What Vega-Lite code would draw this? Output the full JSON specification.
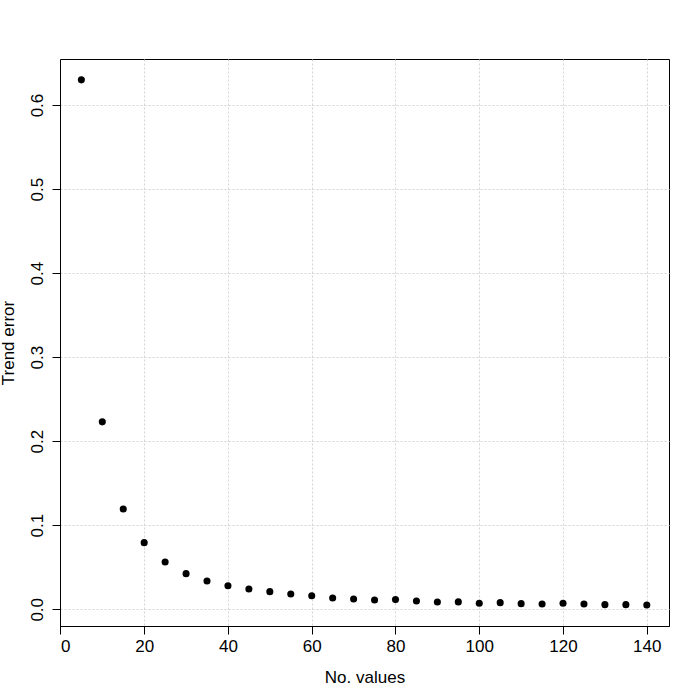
{
  "$schema": "https://vega.github.io/schema/vega-lite/v6.json",
  "autosize": {"type": "none"},
  "padding": {"left": 60, "top": 59, "right": 31, "bottom": 74},
  "width": 609,
  "height": 567,
  "background": "white",
  "config": {
    "view": {"stroke": "black", "strokeWidth": 1},
    "font": "Liberation Sans",
    "axis": {
      "labelFont": "Liberation Sans",
      "titleFont": "Liberation Sans",
      "labelFontSize": 17,
      "titleFontSize": 17,
      "titleFontWeight": "normal",
      "labelColor": "black",
      "titleColor": "black",
      "tickColor": "black",
      "tickSize": 8,
      "domain": true,
      "domainColor": "black",
      "domainWidth": 1,
      "grid": true,
      "gridColor": "#d3d3d3",
      "gridDash": [2, 2],
      "gridWidth": 1
    }
  },
  "data": {
    "values": [
      {"n": 5, "err": 0.630},
      {"n": 10, "err": 0.223},
      {"n": 15, "err": 0.1194},
      {"n": 20, "err": 0.0793},
      {"n": 25, "err": 0.0563},
      {"n": 30, "err": 0.0424},
      {"n": 35, "err": 0.0337},
      {"n": 40, "err": 0.0281},
      {"n": 45, "err": 0.0242},
      {"n": 50, "err": 0.021},
      {"n": 55, "err": 0.0182},
      {"n": 60, "err": 0.0162},
      {"n": 65, "err": 0.0135},
      {"n": 70, "err": 0.0123},
      {"n": 75, "err": 0.011},
      {"n": 80, "err": 0.0115},
      {"n": 85, "err": 0.0099},
      {"n": 90, "err": 0.0087},
      {"n": 95, "err": 0.0088},
      {"n": 100, "err": 0.0071},
      {"n": 105, "err": 0.0079},
      {"n": 110, "err": 0.0067},
      {"n": 115, "err": 0.0063},
      {"n": 120, "err": 0.0071},
      {"n": 125, "err": 0.0063},
      {"n": 130, "err": 0.0055},
      {"n": 135, "err": 0.0055},
      {"n": 140, "err": 0.0051}
    ]
  },
  "mark": {"type": "point", "filled": true, "color": "black", "opacity": 1, "size": 50, "shape": "circle"},
  "encoding": {
    "x": {
      "field": "n",
      "type": "quantitative",
      "scale": {"domain": [-0.1, 145.3], "nice": false, "zero": false},
      "axis": {
        "title": "No. values",
        "values": [0, 20, 40, 60, 80, 100, 120, 140],
        "format": "d",
        "labelPadding": 4,
        "titleX": 304.5,
        "titleY": 56,
        "titleAlign": "center",
        "titleBaseline": "alphabetic"
      }
    },
    "y": {
      "field": "err",
      "type": "quantitative",
      "scale": {"domain": [-0.0199, 0.6548], "nice": false, "zero": false},
      "axis": {
        "title": "Trend error",
        "values": [0, 0.1, 0.2, 0.3, 0.4, 0.5, 0.6],
        "format": ".1f",
        "labelAngle": -90,
        "labelAlign": "center",
        "labelBaseline": "alphabetic",
        "labelPadding": 10,
        "titleAngle": -90,
        "titleX": -47,
        "titleY": 283.5,
        "titleAlign": "center",
        "titleBaseline": "alphabetic"
      }
    }
  }
}
